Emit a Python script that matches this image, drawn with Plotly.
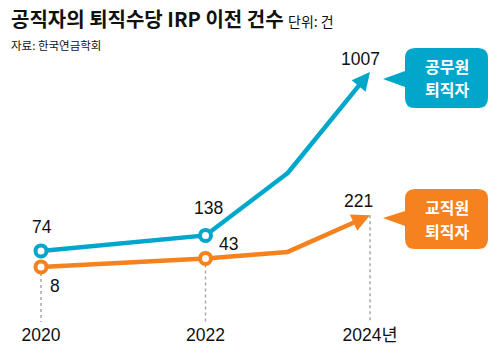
import plotly.graph_objects as go

# ---------------- data ----------------
years = [2020, 2022, 2023, 2024]            # 2023 point is an unlabeled bend in the source
tick_years = [2020, 2022, 2024]
tick_labels = ["2020", "2022", "2024년"]
civil_values = [74, 138, 396, 1007]          # 공무원 퇴직자 (2023)
teacher_values = [8, 43, 70, 221]            # 교직원 퇴직자 (2023)
labeled = [True, True, False, True]
civil_name = ["공무원", "퇴직자"]
teacher_name = ["교직원", "퇴직자"]
title_text = "공직자의 퇴직수당 IRP 이전 건수"
unit_text = "단위: 건"
source_text = "자료: 한국연금학회"

# ---------------- style ----------------
BLUE = "#00A7CB"
ORANGE = "#F5821F"
Y_MIN, Y_MAX = -219.6, 813      # values beyond Y_MAX are drawn at the axis top (broken scale)
W, H = 500, 360
M_L, M_R, M_T, M_B = 0, 0, 72, 38
PLOT_H = H - M_T - M_B
NUM_FONT = "Liberation Sans, Arial, Noto Sans CJK KR"
KR_FONT = "Noto Sans CJK KR, Noto Sans, sans-serif"


def paper_x(px):
    return (px - M_L) / (W - M_L - M_R)


def paper_y(py):
    return (H - M_B - py) / PLOT_H


def capped(vals):
    return [min(v, Y_MAX) for v in vals]


fig = go.Figure()

# dotted guides from the lower series down to the axis
gx, gy = [], []
for ty in tick_years:
    i = years.index(ty)
    gx += [ty, ty, None]
    gy += [teacher_values[i], Y_MIN, None]
fig.add_trace(go.Scatter(x=gx, y=gy, mode="lines", hoverinfo="skip",
                         line=dict(color="#A8A8A8", width=1.5, dash="dot")))

series = [
    (teacher_values, ORANGE, [(14, -18.6), (22.5, 14.4), None, (-11.5, 14.3)]),
    (civil_values, BLUE, [(1, 24), (2.5, 27), None, (-10, 13.5)]),
]

annotations = []
for vals, col, offs in series:
    yv = capped(vals)
    n = len(years)
    # line up to the last bend
    fig.add_trace(go.Scatter(
        x=years[:-1], y=yv[:-1], mode="lines",
        line=dict(color=col, width=4.5), hoverinfo="skip", showlegend=False))
    # small filler at the bend so the arrow segment joins smoothly
    fig.add_trace(go.Scatter(
        x=[years[-2]], y=[yv[-2]], mode="markers",
        marker=dict(size=4.5, color=col, line=dict(width=0)),
        hoverinfo="skip", showlegend=False))
    # open-circle markers on labeled points (except the arrow end)
    mx = [years[i] for i in range(n - 1) if labeled[i]]
    my = [yv[i] for i in range(n - 1) if labeled[i]]
    fig.add_trace(go.Scatter(
        x=mx, y=my, mode="markers",
        marker=dict(symbol="circle", size=11, color="white",
                    line=dict(color=col, width=4)),
        hoverinfo="skip", showlegend=False))
    # final segment as arrow
    annotations.append(dict(x=years[-1], y=yv[-1], ax=years[-2], ay=yv[-2],
                            xref="x", yref="y", axref="x", ayref="y",
                            text="", showarrow=True, arrowhead=2, arrowsize=0.8,
                            arrowwidth=4.5, arrowcolor=col, borderpad=0,
                            font=dict(size=1)))
    for i in range(n):
        if labeled[i] and offs[i] is not None:
            annotations.append(dict(x=years[i], y=yv[i], xref="x", yref="y",
                                    text=str(vals[i]), showarrow=False,
                                    xshift=offs[i][0], yshift=offs[i][1],
                                    xanchor="center", yanchor="middle",
                                    font=dict(family=NUM_FONT, size=17.5, color="#111")))

# callout boxes
shapes = []


def callout(x0, x1, y0, y1, r, tipx, tipy, pb0, pb1, col):
    pts = [
        ("M", [(x0 + r, y0)]),
        ("L", [(x1 - r, y0)]),
        ("Q", [(x1, y0), (x1, y0 + r)]),
        ("L", [(x1, y1 - r)]),
        ("Q", [(x1, y1), (x1 - r, y1)]),
        ("L", [(x0 + r, y1)]),
        ("Q", [(x0, y1), (x0, y1 - r)]),
        ("L", [(x0, pb1)]),
        ("L", [(tipx, tipy)]),
        ("L", [(x0, pb0)]),
        ("L", [(x0, y0 + r)]),
        ("Q", [(x0, y0), (x0 + r, y0)]),
    ]
    path = ""
    for cmd, ps in pts:
        path += cmd + " ".join(f"{paper_x(a):.5f},{paper_y(b):.5f}" for a, b in ps) + " "
    path += "Z"
    return dict(type="path", path=path, xref="paper", yref="paper",
                fillcolor=col, line=dict(width=0), layer="above")


shapes.append(callout(405, 488, 48, 108, 10, 383, 79, 71, 87, BLUE))
shapes.append(callout(405, 488, 189, 249, 10, 383, 218, 211, 226, ORANGE))

for lines, ys in [(civil_name, (66, 89.5)), (teacher_name, (207, 230.5))]:
    for txt, cy in zip(lines, ys):
        annotations.append(dict(x=paper_x(446.5), y=paper_y(cy), xref="paper", yref="paper",
                                text=f"<b>{txt}</b>", showarrow=False,
                                xanchor="center", yanchor="middle", align="center",
                                font=dict(family=KR_FONT, size=16, color="white")))

# titles
annotations.append(dict(x=paper_x(9), y=paper_y(18), xref="paper", yref="paper",
                        text=f"<b>{title_text}</b> <span style='font-size:14px'>{unit_text}</span>",
                        showarrow=False, xanchor="left", yanchor="middle",
                        font=dict(family=KR_FONT, size=20, color="#111")))
annotations.append(dict(x=paper_x(9), y=paper_y(45), xref="paper", yref="paper",
                        text=source_text, showarrow=False, xanchor="left", yanchor="middle",
                        font=dict(family=KR_FONT, size=11.5, color="#111")))

k = 82.25
fig.update_layout(
    width=W, height=H, margin=dict(l=M_L, r=M_R, t=M_T, b=M_B),
    paper_bgcolor="white", plot_bgcolor="white",
    showlegend=False, shapes=shapes, annotations=annotations,
    xaxis=dict(range=[2020 - 41 / k, 2020 + 459 / k], tickvals=tick_years, ticktext=tick_labels,
               showgrid=False, zeroline=False, showline=False, ticks="",
               tickfont=dict(family=NUM_FONT, size=17.5, color="#111")),
    yaxis=dict(range=[Y_MIN, Y_MAX], visible=False, showgrid=False, zeroline=False),
)
fig.write_html("out.html", config={"displayModeBar": False},
               post_script="document.body.style.margin='0';")
